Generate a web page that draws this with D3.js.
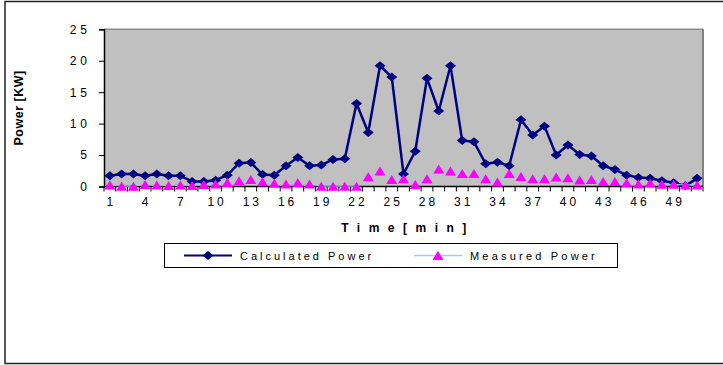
<!DOCTYPE html>
<html>
<head>
<meta charset="utf-8">
<script src="https://cdn.jsdelivr.net/npm/d3@7"></script>
<style>
  html, body { margin: 0; padding: 0; background: #ffffff; }
  svg { display: block; font-family: "Liberation Sans", Arial, sans-serif; }
</style>
</head>
<body>
<svg id="chart" width="723" height="365"></svg>
<script>
// Minutes 1..51
const categories = d3.range(1, 52);
const xTickLabels = [1, 4, 7, 10, 13, 16, 19, 22, 25, 28, 31, 34, 37, 40, 43, 46, 49];
const yTickValues = [0, 5, 10, 15, 20, 25];

// Power in kW per minute
const calculatedPower = [
  1.7, 2.0, 2.0, 1.7, 2.0, 1.7, 1.7, 0.8, 0.8, 1.0,
  1.8, 3.7, 3.8, 1.9, 1.8, 3.3, 4.6, 3.3, 3.4, 4.3,
  4.4, 13.2, 8.6, 19.2, 17.4, 2.0, 5.6, 17.2, 12.0, 19.2,
  7.3, 7.1, 3.6, 3.85, 3.3, 10.6, 8.2, 9.6, 5.0, 6.6,
  5.1, 4.85, 3.3, 2.7, 1.8, 1.45, 1.3, 0.9, 0.6, 0.1, 1.3
];
const measuredPower = [
  0.25, 0.05, 0.05, 0.3, 0.25, 0.15, 0.25, 0.15, 0.3, 0.4,
  0.65, 0.9, 1.1, 0.75, 0.5, 0.4, 0.65, 0.4, 0.05, 0.05,
  0.05, 0.05, 1.55, 2.45, 1.1, 1.25, 0.3, 1.25, 2.8, 2.45,
  2.05, 2.05, 1.25, 0.7, 2.05, 1.6, 1.25, 1.25, 1.5, 1.4,
  1.05, 1.1, 0.8, 0.8, 0.6, 0.4, 0.55, 0.35, 0.35, 0.25, 0.25
];

const svg = d3.select("#chart");
const plot = { left: 104, right: 703, top: 29.3, bottom: 186.5 };

const x = d3.scaleBand().domain(categories).range([plot.left, plot.right]).padding(0);
const y = d3.scaleLinear().domain([0, 25]).range([plot.bottom, plot.top]);
const cx = c => x(c) + x.bandwidth() / 2;

// Outer chart frame
svg.append("rect")
  .attr("x", 5).attr("y", 1.5).attr("width", 740).attr("height", 362)
  .attr("fill", "#ffffff").attr("stroke", "#222").attr("stroke-width", 1.5);

// Plot area
svg.append("rect")
  .attr("x", plot.left).attr("y", plot.top)
  .attr("width", plot.right - plot.left).attr("height", plot.bottom - plot.top)
  .attr("fill", "#c0c0c0");
svg.append("line")
  .attr("x1", plot.left).attr("x2", plot.right).attr("y1", plot.top).attr("y2", plot.top)
  .attr("stroke", "#8c8c8c").attr("stroke-width", 1.5);
svg.append("line")
  .attr("x1", plot.right).attr("x2", plot.right).attr("y1", plot.top).attr("y2", plot.bottom)
  .attr("stroke", "#808080").attr("stroke-width", 2);

// Y axis
const yAxis = svg.append("g")
  .attr("transform", `translate(${plot.left},0)`)
  .call(d3.axisLeft(y).tickValues(yTickValues).tickSize(5).tickPadding(8)
    .tickFormat(d => String(d)));
yAxis.select(".domain").attr("stroke", "#000").attr("stroke-width", 1.5);
yAxis.selectAll(".tick line").attr("stroke", "#000");
yAxis.selectAll(".tick text")
  .attr("font-size", 12).attr("fill", "#000")
  .attr("font-family", "Liberation Sans, Arial, sans-serif")
  .style("letter-spacing", "4px");

// X axis: labels every third minute, ticks on category boundaries
const xAxis = svg.append("g")
  .attr("transform", `translate(0,${plot.bottom})`)
  .call(d3.axisBottom(x).tickValues(xTickLabels).tickSize(0).tickPadding(11));
xAxis.select(".domain").remove();
xAxis.selectAll(".tick text")
  .attr("font-size", 12).attr("fill", "#000")
  .attr("font-family", "Liberation Sans, Arial, sans-serif")
  .attr("dx", 1.5)
  .style("letter-spacing", "3px");

const boundaries = categories.map(c => x(c)).concat([plot.right]);
svg.append("g").selectAll("line").data(boundaries).join("line")
  .attr("x1", d => d).attr("x2", d => d)
  .attr("y1", plot.bottom).attr("y2", plot.bottom + 5)
  .attr("stroke", "#000").attr("stroke-width", 1);
svg.append("line")
  .attr("x1", plot.left).attr("x2", plot.right)
  .attr("y1", plot.bottom).attr("y2", plot.bottom)
  .attr("stroke", "#000").attr("stroke-width", 1.5);

// Axis titles
svg.append("text")
  .attr("transform", `translate(23,${(plot.top + plot.bottom) / 2}) rotate(-90)`)
  .attr("text-anchor", "middle")
  .attr("font-size", 12.5).attr("font-weight", "bold")
  .style("letter-spacing", "0.5px")
  .text("Power [KW]");
svg.append("text")
  .attr("x", 408).attr("y", 232)
  .attr("text-anchor", "middle")
  .attr("font-size", 12).attr("font-weight", "bold")
  .style("letter-spacing", "8.5px")
  .text("Time[min]");

// Marker shapes
const diamond = (w, h) => `M0,${-h}L${w},0L0,${h}L${-w},0Z`;
const triangle = (w, h) => `M0,${-h / 2}L${w / 2},${h / 2}L${-w / 2},${h / 2}Z`;

const lineGen = d3.line().x((d, i) => cx(categories[i])).y(d => y(d));

// Calculated power series
svg.append("path").datum(calculatedPower)
  .attr("d", lineGen).attr("fill", "none")
  .attr("stroke", "#000080").attr("stroke-width", 2.5).attr("stroke-linejoin", "round");
svg.append("g").selectAll("path").data(calculatedPower).join("path")
  .attr("transform", (d, i) => `translate(${cx(categories[i])},${y(d)})`)
  .attr("d", diamond(5.5, 4.5)).attr("fill", "#000080");

// Measured power series
svg.append("path").datum(measuredPower)
  .attr("d", lineGen).attr("fill", "none")
  .attr("stroke", "#99ccff").attr("stroke-width", 1);
svg.append("g").selectAll("path").data(measuredPower).join("path")
  .attr("transform", (d, i) => `translate(${cx(categories[i])},${y(d)})`)
  .attr("d", triangle(11, 9)).attr("fill", "#ff00ff");

// Legend
const legend = svg.append("g");
legend.append("rect")
  .attr("x", 164.5).attr("y", 243.5).attr("width", 453).attr("height", 24)
  .attr("fill", "#ffffff").attr("stroke", "#000").attr("stroke-width", 1);
const ly = 255.5;
legend.append("line").attr("x1", 184).attr("x2", 232).attr("y1", ly).attr("y2", ly)
  .attr("stroke", "#000080").attr("stroke-width", 2);
legend.append("path").attr("transform", `translate(208,${ly})`)
  .attr("d", diamond(5.5, 4.5)).attr("fill", "#000080");
legend.append("text").attr("x", 240).attr("y", ly + 4)
  .attr("font-size", 11).style("letter-spacing", "3px").text("Calculated Power");
legend.append("line").attr("x1", 414).attr("x2", 462).attr("y1", ly).attr("y2", ly)
  .attr("stroke", "#99ccff").attr("stroke-width", 1.5);
legend.append("path").attr("transform", `translate(438,${ly})`)
  .attr("d", triangle(11, 9)).attr("fill", "#ff00ff");
legend.append("text").attr("x", 470).attr("y", ly + 4)
  .attr("font-size", 11).style("letter-spacing", "3.2px").text("Measured Power");
</script>
</body>
</html>
